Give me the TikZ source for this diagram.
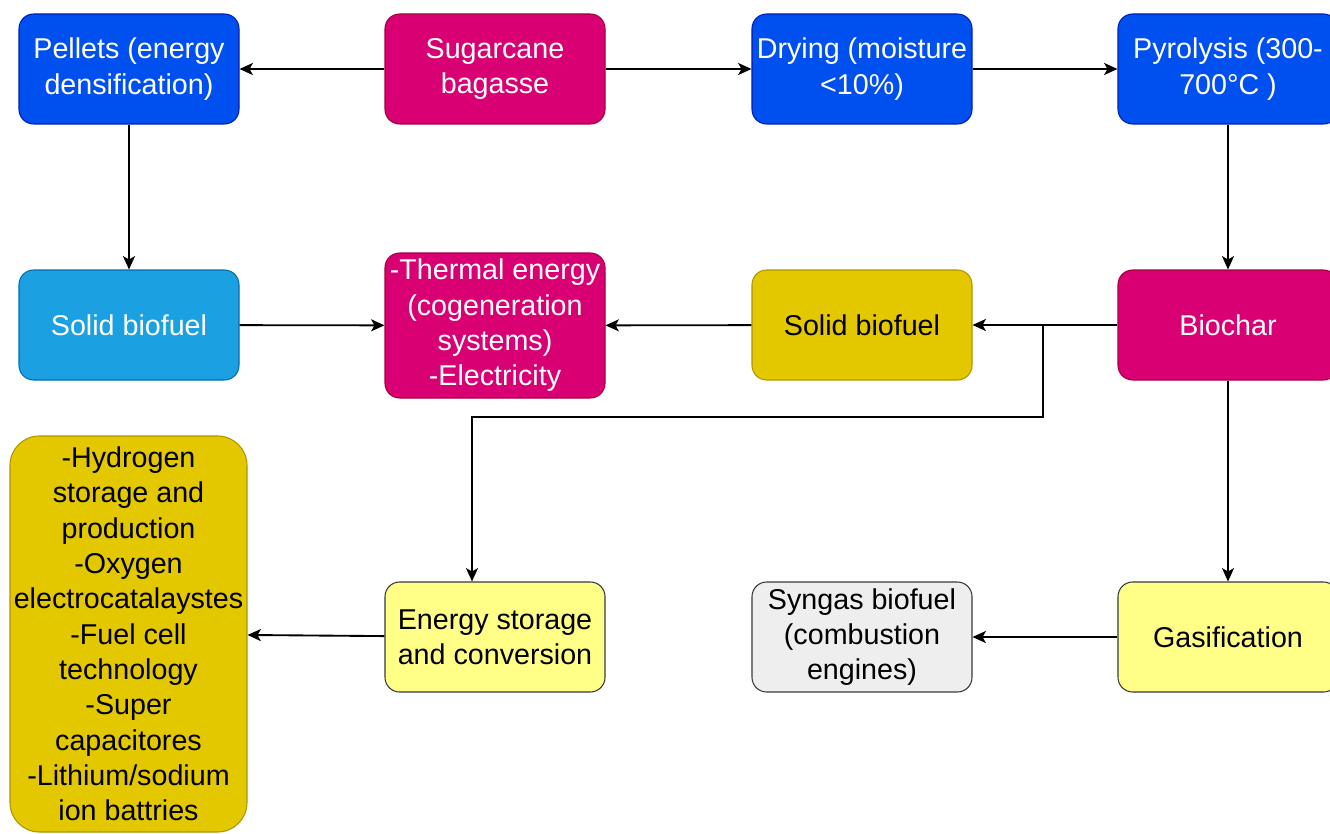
\documentclass[tikz,border=0pt]{standalone}
\usepackage{fontspec}
\setmainfont{Liberation Sans}
\usetikzlibrary{arrows.meta}
\definecolor{cblue}{HTML}{0050EF}
\definecolor{cbluel}{HTML}{001DBC}
\definecolor{cmag}{HTML}{D80073}
\definecolor{cmagl}{HTML}{A50040}
\definecolor{csky}{HTML}{1BA1E2}
\definecolor{cskyl}{HTML}{006EAF}
\definecolor{cyel}{HTML}{E3C800}
\definecolor{cyell}{HTML}{B09500}
\definecolor{clyel}{HTML}{FFFF88}
\definecolor{cgrey}{HTML}{EEEEEE}
\definecolor{cdark}{HTML}{36393D}
\tikzset{
  box/.style={rectangle, rounded corners=11pt, line width=0.8pt, align=center,
    inner sep=0pt, minimum width=165pt, minimum height=82.5pt,
    font=\fontsize{21.5}{26.5}\selectfont},
  bluebox/.style={box, fill=cblue, draw=cbluel, text=white},
  magbox/.style={box, fill=cmag, draw=cmagl, text=white},
  skybox/.style={box, fill=csky, draw=cskyl, text=white},
  yelbox/.style={box, fill=cyel, draw=cyell, text=black},
  lyelbox/.style={box, fill=clyel, draw=cdark, text=black},
  greybox/.style={box, fill=cgrey, draw=cdark, text=black},
  link/.style={line width=1.4pt, draw=black, -{Stealth[length=10pt,width=9pt,inset=2.5pt]}},
}
\begin{document}
\begin{tikzpicture}[x=0.75pt, y=-0.75pt]
  \fill[white] (0,0) rectangle (1330,834);
  \useasboundingbox (0,0) rectangle (1330,834);

  % top row
  \node[bluebox] (pel) at (129,69) {Pellets (energy\\densification)};
  \node[magbox]  (bag) at (495,69) {Sugarcane\\bagasse};
  \node[bluebox] (dry) at (862,69) {Drying (moisture\\<10\%)};
  \node[bluebox] (pyr) at (1228,69) {Pyrolysis (300-\\700°C )};

  % middle row
  \node[skybox] (sbl) at (129,325) {Solid biofuel};
  \node[magbox, minimum height=108.75pt] (the) at (495,325.5)
    {-Thermal energy\\(cogeneration\\systems)\\-Electricity};
  \node[yelbox] (sbm) at (862,325) {Solid biofuel};
  \node[magbox] (bio) at (1228,325) {Biochar};

  % bottom row
  \node[yelbox, rounded corners=22pt, minimum width=177.75pt, minimum height=297pt] (app) at (128.5,634)
    {-Hydrogen\\storage and\\production\\-Oxygen\\electrocatalaystes\\-Fuel cell\\technology\\-Super\\capacitores\\-Lithium/sodium\\ion battries};
  \node[lyelbox] (est) at (495,637) {Energy storage\\and conversion};
  \node[greybox] (syn) at (862,637) {Syngas biofuel\\(combustion\\engines)};
  \node[lyelbox] (gas) at (1228,637) {Gasification};

  % connectors
  \draw[link] (bag) -- (pel);
  \draw[link] (bag) -- (dry);
  \draw[link] (dry) -- (pyr);
  \draw[link] (pel) -- (sbl);
  \draw[link] (pyr) -- (bio);
  \draw[link] (bio) -- (sbm);
  \draw[link] (sbm) -- (the);
  \draw[link] (sbl) -- (the);
  \coordinate (fork) at (1043,325);
  \coordinate (bend) at (1043,417);
  \coordinate (turn) at (472,417);
  \draw[link] (fork) -- (bend) -- (turn) -- (turn |- est.north);
  \draw[link] (bio) -- (gas);
  \draw[link] (gas) -- (syn);
  \draw[link] (est) -- (app);
\end{tikzpicture}
\end{document}
